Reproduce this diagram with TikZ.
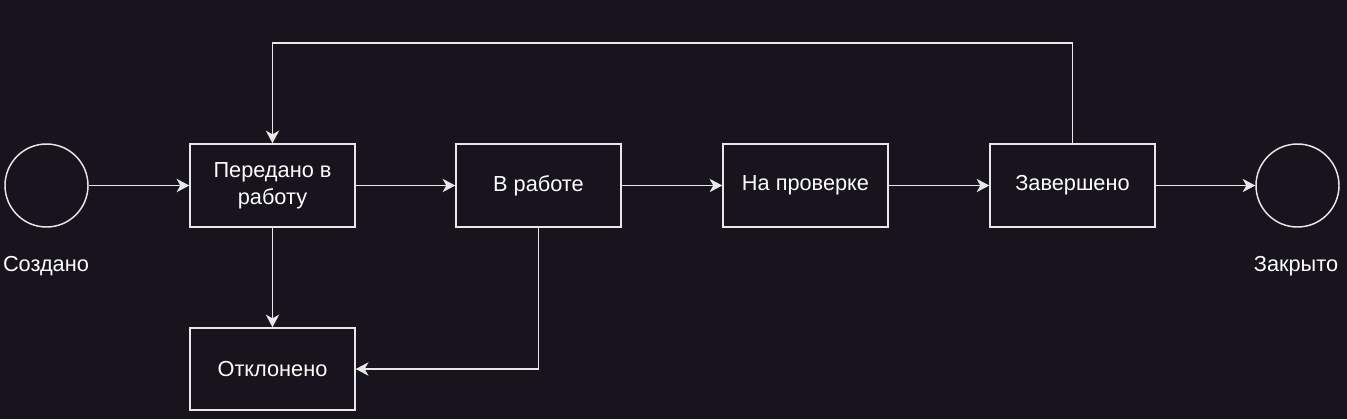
\documentclass[tikz,border=0pt]{standalone}
\usepackage{fontspec}
\setmainfont{Liberation Sans}
\usetikzlibrary{arrows.meta}
\definecolor{bgc}{RGB}{24,20,29}
\definecolor{lnc}{RGB}{232,232,232}
\begin{document}
\begin{tikzpicture}[x=0.75pt,y=-0.75pt,
  every node/.style={text=white,font=\fontsize{16.3}{20.5}\selectfont},
  statebox/.style={draw=lnc,line width=1.1pt,fill=bgc,minimum width=123.75pt,minimum height=62.25pt,inner sep=0pt,align=center},
  endpoint/.style={draw=lnc,line width=1.1pt,fill=bgc,circle,minimum size=62.25pt,inner sep=0pt},
  flow/.style={draw=lnc,line width=1.1pt,-{Stealth[length=9.5pt,width=10pt,inset=2.8pt]}}]
\useasboundingbox[fill=bgc] (0,0) rectangle (1347,419);
\node[endpoint] (c1) at (46.5,185.5) {};
\node[statebox] (b1) at (272.5,185.5) {\raisebox{-1pt}{\begin{tabular}{@{}c@{}}Передано в\\работу\end{tabular}}};
\node[statebox] (b2) at (538.5,185.5) {\raisebox{-1pt}{В работе}};
\node[statebox] (b3) at (805.5,185.5) {\raisebox{-1pt}{На проверке}};
\node[statebox] (b4) at (1072.5,185.5) {\raisebox{-1pt}{Завершено}};
\node[endpoint] (c2) at (1297.5,185.5) {};
\node[statebox,minimum height=61.5pt] (b5) at (272.5,369) {Отклонено};
\node (l1) at (46,266) {Создано};
\node (l2) at (1296,266) {Закрыто};
\coordinate (t4) at (1072.5,43);
\coordinate (t1) at (272.5,43);
\coordinate (d2) at (538.5,369);
\draw[flow] (c1) -- (b1);
\draw[flow] (b1) -- (b2);
\draw[flow] (b2) -- (b3);
\draw[flow] (b3) -- (b4);
\draw[flow] (b4) -- (c2);
\draw[flow] (b1) -- (b5);
\draw[flow] (b4.north) -- (t4) -- (t1) -- (b1.north);
\draw[flow] (b2.south) -- (d2) -- (b5.east);
\end{tikzpicture}
\end{document}
